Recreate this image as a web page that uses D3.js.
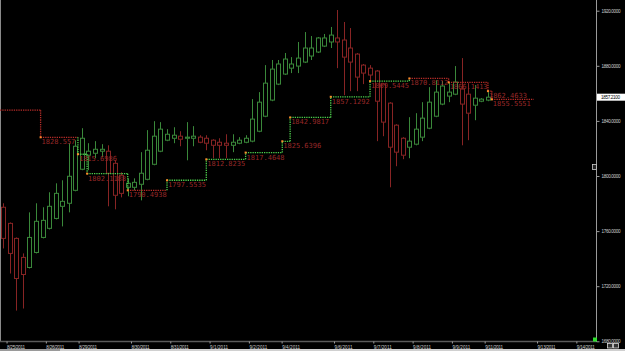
<!DOCTYPE html>
<html>
<head>
<meta charset="utf-8">
<script src="https://cdn.jsdelivr.net/npm/d3@7"></script>
<style>
body { margin: 0; background: #000; overflow: hidden; }
svg { display: block; }
</style>
</head>
<body>
<script>
// candle data (4h bars)
var openVals  = [1777.3,1765.6,1754.7,1740.9,1733.6,1744.5,1755.4,1762.0,1769.2,1778.0,1780.2,1789.6,1804.9,1815.1,1816.5,1818.0,1818.0,1809.2,1800.5,1791.8,
                 1791.8,1794.0,1797.6,1808.5,1818.0,1826.0,1827.4,1828.9,1827.4,1827.4,1828.2,1827.4,1826.0,1824.5,1823.8,1822.3,1823.8,1824.5,1825.3,1832.5,
                 1843.4,1855.1,1866.7,1874.0,1878.3,1879.8,1882.7,1887.1,1890.0,1894.3,1897.3,1900.2,1898.7,1892.9,1888.5,1880.5,1878.3,1876.2,1866.7,1852.9,
                 1836.9,1827.4,1820.9,1823.1,1828.2,1834.7,1843.4,1852.2,1858.0,1859.4,1863.1,1859.4,1851.4,1854.3,1855.1];
var highVals  = [1780.2,1766.3,1755.4,1743.8,1773.6,1780.2,1777.3,1788.2,1794.7,1796.9,1823.8,1826.0,1834.7,1823.8,1825.3,1823.1,1822.3,1811.4,1802.7,1798.3,
                 1798.3,1817.3,1833.3,1839.8,1839.1,1834.0,1835.4,1832.5,1839.1,1836.2,1829.6,1829.6,1826.7,1827.4,1830.3,1830.3,1828.2,1829.6,1855.8,1860.9,
                 1880.5,1884.2,1884.2,1889.3,1886.3,1897.3,1904.5,1901.6,1900.9,1903.1,1908.2,1920.5,1911.8,1907.4,1889.3,1881.3,1880.5,1876.9,1867.4,1853.6,
                 1837.6,1828.2,1842.7,1845.6,1853.6,1864.5,1869.6,1868.9,1868.2,1879.8,1885.6,1867.4,1866.0,1856.5,1860.9];
var lowVals   = [1747.4,1729.2,1702.3,1703.8,1732.9,1743.8,1754.7,1761.2,1768.5,1763.4,1773.6,1788.9,1804.2,1804.2,1812.9,1813.6,1778.0,1775.8,1784.5,1785.3,
                 1789.6,1782.3,1796.9,1807.8,1817.3,1825.3,1823.8,1821.6,1811.4,1821.6,1823.8,1818.7,1812.9,1812.9,1812.9,1817.3,1823.1,1823.8,1824.5,1831.8,
                 1842.7,1854.3,1866.0,1873.3,1874.7,1874.7,1882.0,1884.2,1889.3,1893.6,1892.9,1878.3,1858.7,1861.6,1861.6,1866.7,1869.6,1825.3,1828.9,1791.8,
                 1807.1,1812.2,1812.9,1822.3,1825.3,1834.0,1842.7,1851.4,1853.6,1858.7,1822.3,1826.0,1840.5,1853.6,1854.3];
var closeVals = [1754.7,1743.8,1725.6,1728.5,1755.4,1767.1,1767.8,1778.0,1787.4,1781.6,1799.8,1821.6,1827.4,1818.0,1819.4,1819.4,1802.0,1786.0,1787.4,1794.7,
                 1795.4,1802.0,1818.7,1828.9,1834.0,1830.3,1829.6,1826.7,1828.2,1828.9,1824.5,1823.8,1822.3,1822.3,1822.3,1824.5,1826.0,1827.4,1841.3,1853.6,
                 1867.4,1877.6,1881.3,1884.9,1881.3,1885.6,1892.9,1892.9,1900.2,1900.2,1902.3,1897.3,1886.3,1882.7,1871.8,1874.7,1873.3,1854.3,1839.1,1820.9,
                 1817.3,1815.1,1825.3,1834.0,1842.0,1853.6,1860.9,1865.3,1860.9,1868.2,1852.2,1845.6,1856.5,1855.8,1857.2];

// stepped pivot levels (bar index where each level starts / ends)
var levelStart = [-0.5, 5.7, 11.4, 12.8, 19, 25, 31, 37, 42.6, 43.8, 50, 56, 62, 68, 74, 74.6];
var levelEnd   = [5.7, 11.4, 12.8, 19, 25, 31, 37, 42.6, 43.8, 50, 56, 62, 68, 74, 74.6, 81];
var levelValue = [1847.8, 1828.1, 1815.8, 1801.7, 1789.6, 1796.9, 1812.1, 1817.0, 1825.2, 1842.5, 1857.5, 1868.9, 1870.8, 1867.9, 1861.6, 1855.6];
var levelUp    = [0, 0, 1, 1, 0, 1, 1, 1, 1, 1, 1, 1, 0, 0, 0, 0];
var levelLabel = ["", "1828.557", "1815.6986", "1802.1188", "1790.4938", "1797.5535", "1812.8235", "1817.4648",
                  "1825.6396", "1842.9817", "1857.1292", "1869.5445", "1870.8112", "1866.1413", "1862.4633", "1855.5551"];

// axis ticks
var tickIndex  = [1, 7, 12, 20, 26, 32, 38, 43, 51, 57, 63, 69, 74, 82, 88];
var tickLabels = ["8/25/2011", "8/26/2011", "8/29/2011", "8/30/2011", "8/31/2011", "9/1/2011", "9/2/2011", "9/4/2011",
                  "9/6/2011", "9/7/2011", "9/8/2011", "9/9/2011", "9/11/2011", "9/13/2011", "9/14/2011"];
var yTicks = [1680, 1720, 1760, 1800, 1840, 1880, 1920];
var lastPrice = 1857.21;

var width = 625, height = 351;
var green = "#3a883a", red = "#882424";

var svg = d3.select('body')
            .append('svg')
            .attr('width', width)
            .attr('height', height);

svg.append('rect')
    .attr('width', width)
    .attr('height', height)
    .attr('fill', '#000');

// bar index -> bar centre
var x = d3.scaleLinear().domain([-0.5, 90.5]).range([0, 596]);
var y = d3.scaleLinear().domain([1680, 1920]).range([341.3, 10.7]);

function cx(i) { return Math.round(x(i)) + 0.5; }

// left border
svg.append('line')
    .attr('x1', 0.5).attr('x2', 0.5)
    .attr('y1', 0).attr('y2', 342)
    .attr('stroke', '#8a8a8a');

// candles
var candles = svg.append('g')
    .selectAll('g')
    .data(d3.range(openVals.length))
    .enter()
    .append('g')
    .attr('stroke', function(i) { return closeVals[i] >= openVals[i] ? green : red; })
    .attr('fill', 'none');

candles.append('line')
    .attr('x1', function(i) { return cx(i); })
    .attr('x2', function(i) { return cx(i); })
    .attr('y1', function(i) { return y(highVals[i]); })
    .attr('y2', function(i) { return y(Math.max(openVals[i], closeVals[i])); });

candles.append('line')
    .attr('x1', function(i) { return cx(i); })
    .attr('x2', function(i) { return cx(i); })
    .attr('y1', function(i) { return y(Math.min(openVals[i], closeVals[i])); })
    .attr('y2', function(i) { return y(lowVals[i]); });

candles.append('rect')
    .attr('x', function(i) { return cx(i) - 2; })
    .attr('y', function(i) { return y(Math.max(openVals[i], closeVals[i])); })
    .attr('width', 4)
    .attr('height', function(i) { return Math.max(1, y(Math.min(openVals[i], closeVals[i])) - y(Math.max(openVals[i], closeVals[i]))); })
    .attr('fill', '#000');

// stepped levels
var steps = svg.append('g');
levelValue.forEach(function(v, k) {
    var col = levelUp[k] ? '#4ccf4c' : '#b82c28';
    steps.append('line')
        .attr('x1', x(levelStart[k])).attr('x2', x(levelEnd[k]))
        .attr('y1', y(v)).attr('y2', y(v))
        .attr('stroke', col)
        .attr('stroke-width', 1.3)
        .attr('stroke-dasharray', '1.3,1');
    if (k > 0) {
        var vcol = (levelUp[k] || levelUp[k - 1]) ? '#4ccf4c' : '#b82c28';
        steps.append('line')
            .attr('x1', x(levelStart[k])).attr('x2', x(levelStart[k]))
            .attr('y1', y(levelValue[k - 1])).attr('y2', y(v))
            .attr('stroke', vcol)
            .attr('stroke-width', 1.3)
            .attr('stroke-dasharray', '1.3,1');
    }
});

// corner dots
steps.selectAll('rect')
    .data(d3.range(1, levelValue.length))
    .enter()
    .append('rect')
    .attr('x', function(k) { return x(levelStart[k]) - 1; })
    .attr('y', function(k) { return y(levelValue[k]) - 1; })
    .attr('width', 2)
    .attr('height', 2)
    .attr('fill', '#ff8a2a');

// level labels
steps.selectAll('text')
    .data(d3.range(1, levelValue.length))
    .enter()
    .append('text')
    .attr('x', function(k) { return x(levelStart[k]) + 1; })
    .attr('y', function(k) { return y(levelValue[k]) + 7; })
    .style('font-family', 'DejaVu Sans Mono')
    .style('font-size', '7px')
    .attr('fill', '#982828')
    .text(function(k) { return levelLabel[k]; });

// price axis on the right
var yAxis = svg.append('g')
    .attr('transform', 'translate(596.5,0)')
    .call(d3.axisRight(y).tickValues(yTicks).tickSize(3).tickPadding(2)
        .tickFormat(function(d) { return d.toFixed(4); }));
yAxis.select('.domain').attr('stroke', '#9a9a9a').attr('d', 'M0,0V342');
yAxis.selectAll('line').attr('stroke', '#9a9a9a');
yAxis.selectAll('text')
    .attr('fill', '#cfcfcf')
    .style('font-family', 'Liberation Sans')
    .style('font-size', '4.6px')
    .attr('textLength', 19);

// time axis
var xAxis = svg.append('g')
    .attr('transform', 'translate(0,341.5)')
    .call(d3.axisBottom(x).tickValues(tickIndex.map(function(k) { return k - 0.5; }))
        .tickSize(2).tickPadding(2)
        .tickFormat(function(d, i) { return tickLabels[i]; }));
xAxis.select('.domain').attr('stroke', '#5a5a5a').attr('stroke-width', 1.5).attr('d', 'M0,0H596');
xAxis.selectAll('line').attr('stroke', '#a0a0a0');
xAxis.selectAll('text')
    .style('text-anchor', 'start')
    .attr('fill', '#cfcfcf')
    .style('font-family', 'Liberation Sans')
    .style('font-size', '4.6px')
    .attr('textLength', 18);

// last price marker
svg.append('rect')
    .attr('x', 597).attr('y', y(lastPrice) - 3.5)
    .attr('width', 28).attr('height', 7)
    .attr('fill', '#fff');
svg.append('text')
    .attr('x', 601).attr('y', y(lastPrice) + 1.8)
    .style('font-family', 'Liberation Sans')
    .style('font-size', '4.6px')
    .attr('textLength', 19)
    .attr('fill', '#000')
    .text(lastPrice.toFixed(4));

// small widgets
svg.append('rect').attr('x', 592.5).attr('y', 164.5).attr('width', 4).attr('height', 5)
    .attr('fill', '#222').attr('stroke', '#ccc').attr('stroke-width', 0.8);
svg.append('rect').attr('x', 593).attr('y', 337.5).attr('width', 4).attr('height', 4).attr('fill', '#2ee02e');
svg.append('rect').attr('x', 607.5).attr('y', 343.5).attr('width', 5).attr('height', 4.5)
    .attr('fill', '#333').attr('stroke', '#ddd').attr('stroke-width', 0.8);
svg.append('rect').attr('x', 613.5).attr('y', 343.5).attr('width', 5).attr('height', 4.5)
    .attr('fill', '#333').attr('stroke', '#ddd').attr('stroke-width', 0.8);

// scroll bar
svg.append('rect').attr('x', 0).attr('y', 349).attr('width', width).attr('height', 2).attr('fill', '#d0d0d0');
svg.append('rect').attr('x', 0).attr('y', 349).attr('width', 60).attr('height', 2).attr('fill', '#9a9a9a');
</script>
</body>
</html>
